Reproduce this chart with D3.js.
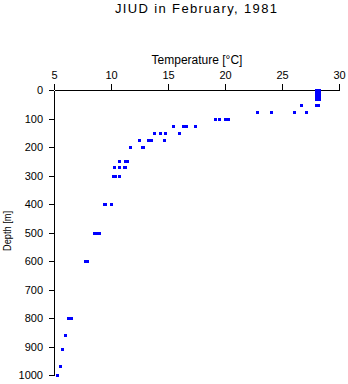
<!DOCTYPE html>
<html>
<head>
<meta charset="utf-8">
<script src="https://cdn.jsdelivr.net/npm/d3@7"></script>
<style>
  html, body { margin: 0; padding: 0; background: #fff; }
  svg { display: block; font-family: "Liberation Sans", Arial, sans-serif; }
</style>
</head>
<body>
<svg id="chart" width="348" height="384"></svg>
<script>
const title = "JIUD in February, 1981";
const xLabel = "Temperature [°C]";
const yLabel = "Depth [m]";
const xTicks = [5, 10, 15, 20, 25, 30];
const yTicks = [0, 100, 200, 300, 400, 500, 600, 700, 800, 900, 1000];

// Observations (depth in m, temperature in °C)
const depths = [
  0, 0, 8, 8, 16, 16, 24, 24, 32, 32,
  53, 53, 53,
  78, 78, 78, 78,
  102, 102, 102, 102,
  127, 127, 127, 127,
  152, 152, 152, 152,
  176, 176, 176, 176,
  201, 201, 201,
  252, 252, 252,
  271, 271, 271, 271,
  302, 302, 302,
  401, 401, 401,
  503, 503, 503,
  601, 601,
  801, 801,
  861, 910, 970, 1000
];
const temperatures = [
  28.03, 28.29, 28.03, 28.29, 28.03, 28.29, 28.03, 28.29, 28.03, 28.29,
  26.7, 28.03, 28.2,
  22.83, 24.12, 26.1, 27.13,
  19.15, 19.53, 20.04, 20.31,
  15.44, 16.32, 16.65, 17.43,
  13.82, 14.34, 14.74, 16.03,
  12.52, 13.33, 13.51, 14.65,
  11.73, 12.72, 12.89,
  10.73, 11.27, 11.42,
  10.32, 10.73, 11.17, 11.27,
  10.26, 10.39, 10.73,
  9.4, 9.5, 10.0,
  8.55, 8.75, 8.97,
  7.76, 7.94,
  6.27, 6.54,
  6.03, 5.73, 5.55, 5.35
];

const svg = d3.select("#chart");
const margin = { left: 54, right: 9, top: 90, bottom: 9 };
const W = 348, H = 384;

const x = d3.scaleLinear().domain([5, 30]).range([margin.left, W - margin.right]);
const y = d3.scaleLinear().domain([0, 1000]).range([margin.top, H - margin.bottom]);

svg.append("text")
  .attr("x", 196).attr("y", 13)
  .attr("text-anchor", "middle")
  .attr("font-size", 13)
  .attr("textLength", 162)
  .attr("lengthAdjust", "spacing")
  .text(title);

const xAxis = svg.append("g")
  .attr("transform", `translate(0,${margin.top})`)
  .call(d3.axisTop(x).tickValues(xTicks).tickFormat(d3.format("d")).tickSize(6).tickSizeOuter(0).tickPadding(5));
const yAxis = svg.append("g")
  .attr("transform", `translate(${margin.left},0)`)
  .call(d3.axisLeft(y).tickValues(yTicks).tickFormat(d3.format("d")).tickSize(5).tickSizeOuter(0).tickPadding(6));

[xAxis, yAxis].forEach(g => {
  g.selectAll("path, line").attr("stroke", "#000").attr("stroke-width", 1).attr("shape-rendering", "crispEdges");
  g.selectAll("text").attr("font-size", 11).attr("fill", "#000")
    .attr("font-family", "'Liberation Sans', Arial, sans-serif");
});

svg.append("text")
  .attr("x", 197).attr("y", 64)
  .attr("text-anchor", "middle")
  .attr("font-size", 12)
  .text(xLabel);

svg.append("text")
  .attr("transform", "translate(11,231) rotate(-90)")
  .attr("text-anchor", "middle")
  .attr("font-size", 11)
  .attr("textLength", 40)
  .attr("lengthAdjust", "spacingAndGlyphs")
  .text(yLabel);

const pts = depths.map((d, i) => ({ d, t: temperatures[i] }));
svg.append("g").selectAll("rect").data(pts).join("rect")
  .attr("x", p => Math.round(x(p.t) - 1.5))
  .attr("y", p => Math.round(y(p.d) - 1.5))
  .attr("width", 3).attr("height", 3)
  .attr("fill", "#0000ff")
  .attr("shape-rendering", "crispEdges");
</script>
</body>
</html>
